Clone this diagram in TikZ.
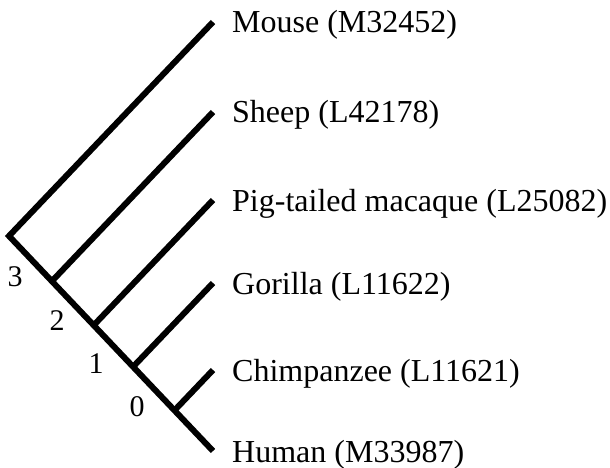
\documentclass[tikz,border=0pt]{standalone}
\usepackage{fontspec}
\setmainfont{Liberation Serif}
\begin{document}
\begin{tikzpicture}[x=1pt,y=-1pt,
  branch/.style={line width=6pt,line cap=butt,line join=miter},
  taxon/.style={anchor=base west,inner sep=0pt,font=\fontsize{32}{36}\selectfont},
  rank/.style={anchor=center,inner sep=0pt,font=\fontsize{30}{34}\selectfont}]
\useasboundingbox (0,0) rectangle (610,468);
% tips
\coordinate (tM) at (213,22);
\coordinate (tS) at (213,112);
\coordinate (tP) at (213,200);
\coordinate (tG) at (213,283);
\coordinate (tC) at (213,370);
\coordinate (tH) at (213,451);
% joins on the main line
\coordinate (root) at (9,236);
\coordinate (j3) at (51.5,281.6);
\coordinate (j2) at (93.4,325.6);
\coordinate (j1) at (132.9,367);
\coordinate (j0) at (174.3,410.6);
% tree
\draw[branch] (tM) -- (root) -- (tH);
\draw[branch] (j3) -- (tS);
\draw[branch] (j2) -- (tP);
\draw[branch] (j1) -- (tG);
\draw[branch] (j0) -- (tC);
% taxon labels
\node[taxon] (lM) at (232,33) {Mouse (M32452)};
\node[taxon] (lS) at (232,123) {Sheep (L42178)};
\node[taxon] (lP) at (232,211) {Pig-tailed macaque (L25082)};
\node[taxon] (lG) at (232,294) {Gorilla (L11622)};
\node[taxon] (lC) at (232,381) {Chimpanzee (L11621)};
\node[taxon] (lH) at (232,462) {Human (M33987)};
% rank labels
\node[rank] (n3) at (15,277) {3};
\node[rank] (n2) at (57,321) {2};
\node[rank] (n1) at (96,364) {1};
\node[rank] (n0) at (137,407) {0};
\end{tikzpicture}
\end{document}
